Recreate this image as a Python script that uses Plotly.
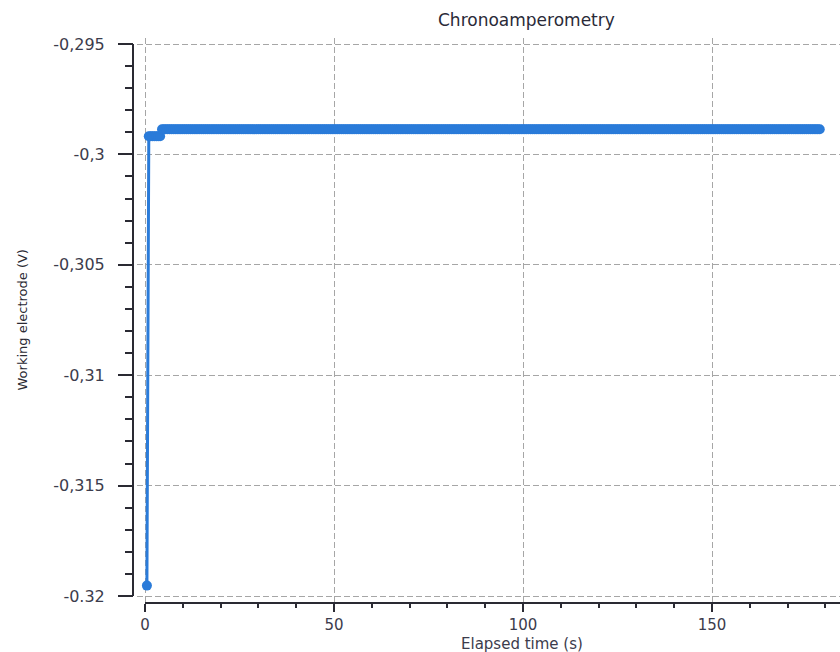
import plotly.graph_objects as go

# Sampling: 0.5 s steps starting at 0.5 s
t_start = 0.5
t_step = 0.5

# Working-electrode potential, stored as run-length levels (V) and sample counts
level_values = [-0.31953, -0.29918, -0.29886]
level_counts = [1, 7, 349]

# Axis ticks
x_tickvals = [0, 50, 100, 150]
x_ticktext = ["0", "50", "100", "150"]
y_tickvals = [-0.295, -0.300, -0.305, -0.310, -0.315, -0.320]
y_ticktext = ["-0,295", "-0,3", "-0,305", "-0,31", "-0,315", "-0.32"]

x_range = [-2.12, 183.86]
y_range = [-0.320317, -0.294728]

potential = []
for v, n in zip(level_values, level_counts):
    potential.extend([v] * n)
time = [t_start + i * t_step for i in range(len(potential))]

W, H = 840, 652
ml, mr, mt, mb = 133, 0, 38, 49
plot_w = W - ml - mr
x_dom0 = 4 / plot_w

font_fam = "DejaVu Sans"
txt_col = "#3c3c4c"
ax_col = "#2a2a33"
blue = "#2a7bd9"

fig = go.Figure()
fig.add_trace(go.Scatter(
    x=time, y=potential, mode="lines+markers",
    line=dict(color=blue, width=3),
    marker=dict(color=blue, size=10),
    showlegend=False,
))

grid = dict(showgrid=True, gridcolor="#a6a6a6", gridwidth=1.2, griddash="6px,3px")

fig.update_layout(
    width=W, height=H,
    margin=dict(l=ml, r=mr, t=mt, b=mb, pad=0),
    paper_bgcolor="white", plot_bgcolor="white",
    font=dict(family=font_fam, color=txt_col, size=16),
    xaxis=dict(
        domain=[x_dom0, 1], range=x_range, zeroline=False, showline=False,
        tickvals=x_tickvals, ticktext=x_ticktext,
        ticks="outside", ticklen=8, tickwidth=2, tickcolor=ax_col,
        minor=dict(dtick=10, ticks="outside", ticklen=4, tickwidth=2,
                   tickcolor=ax_col, showgrid=False),
        tickfont=dict(size=15, color=txt_col), ticklabelstandoff=0,
        **grid,
    ),
    yaxis=dict(
        domain=[0, 1], range=y_range, zeroline=False, showline=False,
        anchor="free", position=0,
        tickvals=y_tickvals, ticktext=y_ticktext,
        ticks="outside", ticklen=15, tickwidth=2, tickcolor=ax_col,
        minor=dict(dtick=0.001, tick0=-0.32, ticks="outside", ticklen=8,
                   tickwidth=2, tickcolor=ax_col, showgrid=False),
        tickfont=dict(size=16, color=txt_col), ticklabelstandoff=10,
        **grid,
    ),
)

# Axis lines: y axis spans the labelled range, x axis starts at t = 0
def y_to_paper(v):
    return (v - y_range[0]) / (y_range[1] - y_range[0])

def x_to_paper(v):
    return x_dom0 + (v - x_range[0]) / (x_range[1] - x_range[0]) * (1 - x_dom0)

fig.add_shape(type="line", xref="paper", yref="paper",
              x0=0, x1=0, y0=y_to_paper(y_tickvals[0]), y1=y_to_paper(y_tickvals[-1]),
              line=dict(color=ax_col, width=2), layer="above")
fig.add_shape(type="line", xref="paper", yref="paper",
              x0=x_to_paper(0), x1=1, y0=0, y1=0,
              line=dict(color=ax_col, width=2), layer="above")

plot_h = H - mt - mb
fig.add_annotation(text="Chronoamperometry", xref="paper", yref="paper",
                   x=(526 - ml) / plot_w, y=1 + (mt - 20) / plot_h,
                   xanchor="center", yanchor="middle", showarrow=False,
                   font=dict(size=17, color="#2a2a38"))
fig.add_annotation(text="Elapsed time (s)", xref="paper", yref="paper",
                   x=(522 - ml) / plot_w, y=-(644 - (H - mb)) / plot_h,
                   xanchor="center", yanchor="middle", showarrow=False,
                   font=dict(size=15, color=txt_col))
fig.add_annotation(text="Working electrode (V)", xref="paper", yref="paper",
                   x=(22 - ml) / plot_w, y=0.5, textangle=-90,
                   xanchor="center", yanchor="middle", showarrow=False,
                   font=dict(size=13, color="#2a2a33"))

fig.write_html("out.html")
